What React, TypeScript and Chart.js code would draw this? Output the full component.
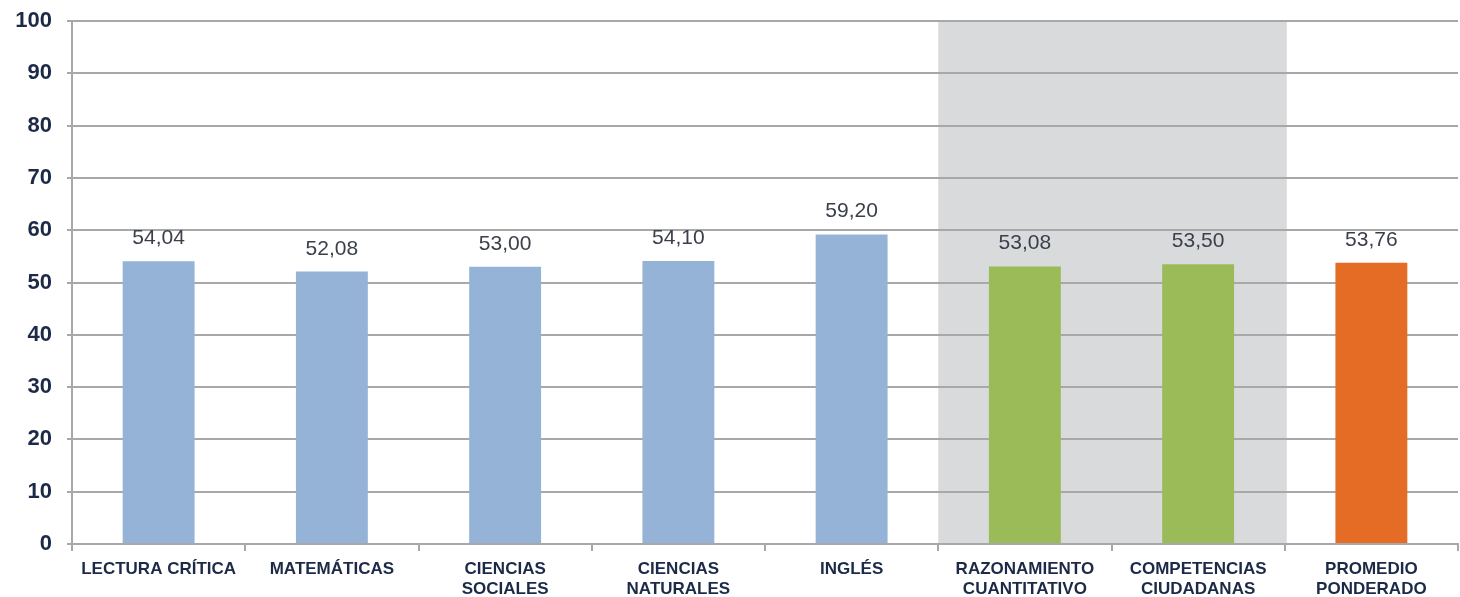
import React, { useEffect, useRef } from "react";
import { Chart, registerables } from "chart.js";

Chart.register(...registerables);

const categories: string[][] = [
  ["LECTURA CRÍTICA"],
  ["MATEMÁTICAS"],
  ["CIENCIAS", "SOCIALES"],
  ["CIENCIAS", "NATURALES"],
  ["INGLÉS"],
  ["RAZONAMIENTO", "CUANTITATIVO"],
  ["COMPETENCIAS", "CIUDADANAS"],
  ["PROMEDIO", "PONDERADO"],
];
const values: number[] = [54.04, 52.08, 53.0, 54.1, 59.2, 53.08, 53.5, 53.76];
const barColors: string[] = [
  "#95B3D7", "#95B3D7", "#95B3D7", "#95B3D7", "#95B3D7",
  "#9BBB59", "#9BBB59", "#E46C25",
];
const shadedCategories: number[] = [5, 6];
const yTicks = { min: 0, max: 100, step: 10 };

const GRID = "#a8a8a8";
const TEXT = "#1c2a47";

const bandPlugin = {
  id: "band",
  beforeDraw(chart: any) {
    const x = chart.scales.x;
    const area = chart.chartArea;
    const half = (x.getPixelForValue(1) - x.getPixelForValue(0)) / 2;
    const x0 = x.getPixelForValue(shadedCategories[0]) - half;
    const x1 = x.getPixelForValue(shadedCategories[shadedCategories.length - 1]) + half;
    const ctx = chart.ctx;
    ctx.save();
    ctx.fillStyle = "#D9DADC";
    ctx.fillRect(x0, area.top, x1 - x0 + 2, area.bottom - area.top);
    ctx.restore();
  },
};

const labelPlugin = {
  id: "valueLabels",
  afterDatasetsDraw(chart: any) {
    const ctx = chart.ctx;
    const meta = chart.getDatasetMeta(0);
    ctx.save();
    ctx.font = "21px 'Liberation Sans', Arial, sans-serif";
    ctx.fillStyle = "#3a3f4a";
    ctx.textAlign = "center";
    ctx.textBaseline = "alphabetic";
    meta.data.forEach((bar: any, i: number) => {
      const txt = values[i].toFixed(2).replace(".", ",");
      ctx.fillText(txt, bar.x, bar.y - 17);
    });
    ctx.restore();
  },
};

export default function App() {
  const ref = useRef<HTMLCanvasElement | null>(null);
  useEffect(() => {
    if (!ref.current) return;
    const chart = new Chart(ref.current, {
      type: "bar",
      data: {
        labels: categories,
        datasets: [
          {
            data: values,
            backgroundColor: barColors,
            categoryPercentage: 1,
            barPercentage: 0.415,
          },
        ],
      },
      options: {
        animation: false,
        responsive: false,
        layout: { padding: { left: 0, right: 2, top: 21, bottom: 0 } },
        plugins: {
          legend: { display: false },
          tooltip: { enabled: false },
        },
        scales: {
          x: {
            grid: {
              display: true,
              drawOnChartArea: false,
              drawTicks: true,
              tickLength: 7,
              offset: true,
              color: GRID,
              lineWidth: 2,
            },
            border: { display: true, color: GRID, width: 2 },
            ticks: {
              color: TEXT,
              font: { family: "'Liberation Sans', Arial, sans-serif", size: 17, weight: "bold" },
              padding: 8,
              maxRotation: 0,
              autoSkip: false,
            },
            afterFit(scale: any) {
              scale.height = 53;
              scale.paddingLeft = 0;
              scale.paddingRight = 0;
            },
          },
          y: {
            min: yTicks.min,
            max: yTicks.max,
            ticks: {
              stepSize: yTicks.step,
              color: TEXT,
              font: { family: "'Liberation Sans', Arial, sans-serif", size: 22, weight: "bold" },
              padding: 15,
            },
            grid: { color: GRID, lineWidth: 2, tickLength: 5 },
            border: { display: true, color: GRID, width: 2 },
            afterFit(scale: any) {
              scale.width = 72;
              scale.paddingTop = 0;
              scale.paddingBottom = 0;
            },
          },
        },
      },
      plugins: [bandPlugin, labelPlugin],
    });
    return () => chart.destroy();
  }, []);
  return (
    <div style={{ position: "absolute", left: 0, top: 0, width: 1460, height: 597, background: "#fff" }}>
      <canvas ref={ref} width={1460} height={597} style={{ display: "block" }} />
    </div>
  );
}
